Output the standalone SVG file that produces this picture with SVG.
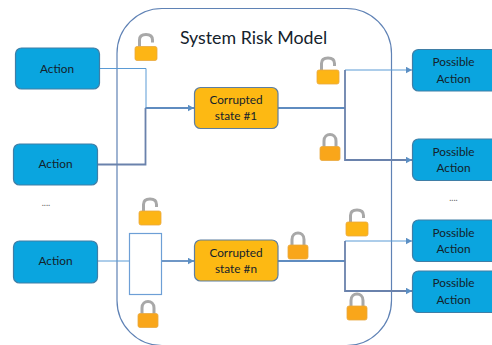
<svg xmlns="http://www.w3.org/2000/svg" width="492" height="345" viewBox="0 0 492 345">
<style>
text{font-family:Lato,"Liberation Sans",sans-serif;fill:#14222b;text-anchor:middle;font-size:11.800px}
.a{fill:#0aa5df;stroke:#3f7ea6;stroke-width:1.2}
.c{fill:#fdb913;stroke:#5d7ea0;stroke-width:1.2}
.l{fill:none;stroke:#5b9bd5;stroke-width:1}
.m{fill:none;stroke:#5f8cc0;stroke-width:1.800}
.d{fill:none;stroke:#6a82ac;stroke-width:1.800}
.sh{fill:none;stroke:#a8a8a8;stroke-width:3}
.bo{fill:#fdb515;stroke:#e8a840;stroke-width:.8}
.bc{fill:#f9a61a;stroke:#e8a840;stroke-width:.8}
</style>
<defs>
<marker id="ah" markerUnits="userSpaceOnUse" markerWidth="7" markerHeight="8" refX="6.500" refY="3.500" orient="auto"><path d="M0 0L6.500 3.500L0 7Z" fill="#5b8fc4"/></marker>
<symbol id="open" overflow="visible"><path class="sh" d="M4.500 13V6.500C4.500 2 7.500 1 11 1S17.500 2 17.500 6.500V9"/><rect class="bo" x="0" y="13" width="22" height="14" rx="2"/></symbol>
<symbol id="closed" overflow="visible"><path class="sh" d="M4 14V8C4 3.500 7 1.500 10 1.500S16 3.500 16 8V14"/><rect class="bc" x="0" y="13.500" width="20" height="14" rx="2"/></symbol>
</defs>
<g id="system-risk-model">
<rect x="117" y="8.500" width="274.500" height="337" rx="45" fill="#fff" stroke="#5f82b5" stroke-width="1.200"/>
<text x="253.500" y="44" style="font-size:17.800px">System Risk Model</text>
</g>
<g id="connectors">
<path class="l" d="M99.500 68.500H146V108"/>
<path class="d" d="M97 164.500H145.500V108"/>
<path class="m" d="M145.500 108H194" marker-end="url(#ah)"/>
<path class="m" d="M278 108H345"/>
<path class="l" d="M345 70H412" marker-end="url(#ah)"/>
<path class="d" d="M345 70V160H412" marker-end="url(#ah)"/>
<path class="l" d="M97 261H129.500"/>
<path class="m" d="M162 261H194" marker-end="url(#ah)"/>
<path class="m" d="M278 261H345"/>
<path class="l" d="M345 241H412" marker-end="url(#ah)"/>
<path class="d" d="M345 241V291H412" marker-end="url(#ah)"/>
</g>
<g id="gate"><rect x="129.500" y="233.500" width="32" height="61" fill="#fff" stroke="#6d9fd6" stroke-width="1.200"/></g>
<g id="action-1"><rect class="a" x="15.500" y="48" width="84" height="41" rx="6"/><text x="57" y="72.500">Action</text></g>
<g id="action-2"><rect class="a" x="13.500" y="144" width="84" height="41" rx="6"/><text x="55.500" y="168">Action</text></g>
<g id="action-n"><rect class="a" x="13.500" y="241" width="84" height="42" rx="6"/><text x="55.500" y="265">Action</text></g>
<g id="state-1"><rect class="c" x="194.500" y="87.500" width="83.500" height="41" rx="6"/><text x="236" y="103.500">Corrupted</text><text x="236" y="120">state #1</text></g>
<g id="state-n"><rect class="c" x="194.500" y="240" width="83.500" height="41" rx="6"/><text x="236" y="256.500">Corrupted</text><text x="236" y="273">state #n</text></g>
<g id="possible-1"><rect class="a" x="412.500" y="49.500" width="85" height="41.500" rx="6"/><text x="453.500" y="66">Possible</text><text x="453.500" y="82.500">Action</text></g>
<g id="possible-2"><rect class="a" x="412.500" y="139" width="85" height="41.500" rx="6"/><text x="453.500" y="155.500">Possible</text><text x="453.500" y="171.500">Action</text></g>
<g id="possible-3"><rect class="a" x="412.500" y="220" width="85" height="41.500" rx="6"/><text x="453.500" y="236.500">Possible</text><text x="453.500" y="252.500">Action</text></g>
<g id="possible-4"><rect class="a" x="412.500" y="271" width="85" height="41.500" rx="6"/><text x="453.500" y="287">Possible</text><text x="453.500" y="303.500">Action</text></g>
<g id="dots"><text x="46" y="206" style="font-size:9px;fill:#666">....</text><text x="453.500" y="201" style="font-size:9px;fill:#666">....</text></g>
<g id="locks">
<use href="#open" x="135" y="33.500"/>
<use href="#open" x="317" y="57"/>
<use href="#closed" x="320" y="133"/>
<use href="#open" x="139" y="198"/>
<use href="#closed" x="138" y="300"/>
<use href="#closed" x="288" y="231.500"/>
<use href="#open" x="346" y="209"/>
<use href="#closed" x="347" y="292.500"/>
</g>
</svg>
